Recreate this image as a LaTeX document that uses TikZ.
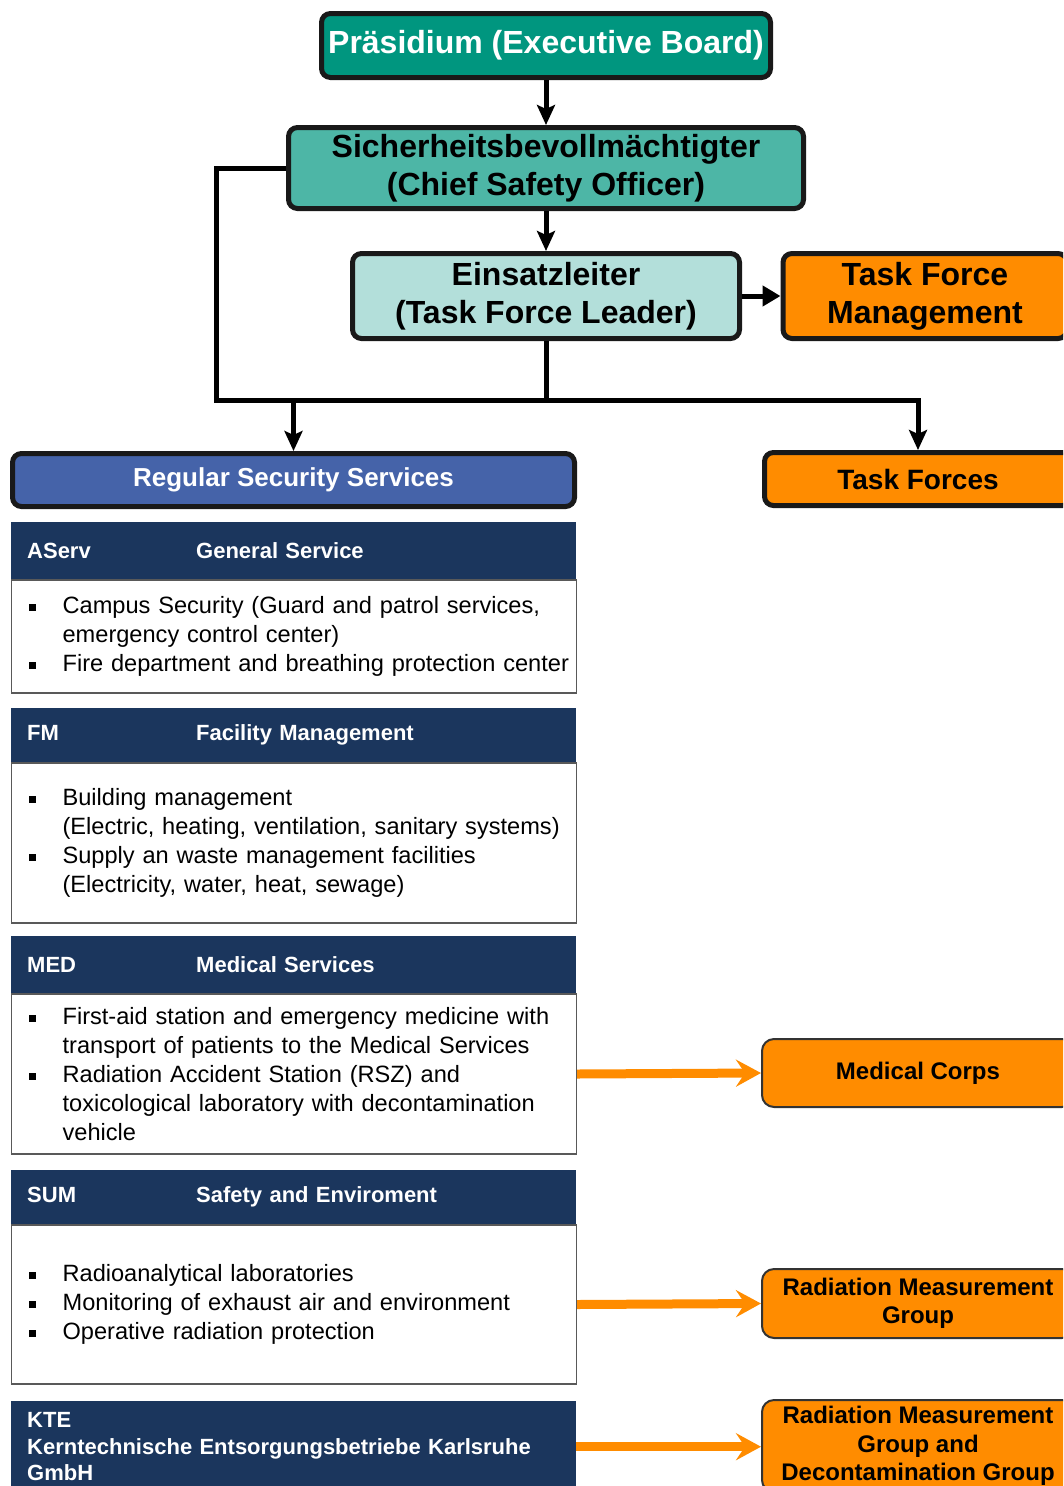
\documentclass[tikz,border=0pt]{standalone}
\usepackage{fontspec}
\setmainfont{Liberation Sans}
\usetikzlibrary{arrows.meta}
\definecolor{board}{HTML}{00967F}
\definecolor{officer}{HTML}{4DB6A6}
\definecolor{leader}{HTML}{B3DFDA}
\definecolor{force}{HTML}{FF8C00}
\definecolor{regular}{HTML}{4563A9}
\definecolor{navy}{HTML}{1B365D}
\newcommand{\sqb}{\rule[2.7pt]{7pt}{7pt}}
\newcommand{\itm}[1]{\mbox{\hspace*{12pt}\makebox[34pt][l]{\sqb}#1}}
\newcommand{\cnt}[1]{\mbox{\hspace*{46pt}#1}}
\tikzset{
  topbox/.style={draw=black!90, line width=5pt, rounded corners=9pt, align=center, inner sep=0pt,
    font=\bfseries\fontsize{32}{38}\selectfont},
  forcebox/.style={fill=force, draw=black!80, line width=2pt, rounded corners=12pt, minimum width=312pt,
    align=center, inner sep=0pt, font=\bfseries\fontsize{24}{28.5}\selectfont},
  unithead/.style={fill=navy, text=white, anchor=north west, inner xsep=16pt, inner ysep=0pt,
    text width=533pt, align=left, font=\bfseries\fontsize{22}{26.5}\selectfont},
  unitbody/.style={draw=black!65, line width=1.2pt, anchor=north west, inner xsep=5pt, inner ysep=0pt,
    text width=555pt, align=left, font=\fontsize{23.6}{29}\selectfont},
  link/.style={line width=5pt},
  linkarrow/.style={line width=5pt, -{Stealth[length=20pt,width=18pt,inset=4pt]}},
  feed/.style={draw=force, line width=9pt, -{Stealth[length=25pt,width=27pt,inset=9pt]}},
}
\begin{document}
\begin{tikzpicture}[x=1pt,y=-1pt]
\useasboundingbox (0,0) rectangle (1063,1486);
\clip (0,0) rectangle (1063,1486);

\node[topbox, fill=board, text=white, minimum width=449pt, minimum height=64pt] (board) at (546,45.5) {Präsidium (Executive Board)};
\node[topbox, fill=officer, minimum width=515pt, minimum height=81pt] (officer) at (546,168) {Sicherheitsbevollmächtigter\\(Chief Safety Officer)};
\node[topbox, fill=leader, minimum width=387pt, minimum height=85pt] (leader) at (546,296) {Einsatzleiter\\(Task Force Leader)};
\node[topbox, fill=force, minimum width=284pt, minimum height=85pt] (tfm) at (925,296) {Task Force\\Management};
\node[topbox, fill=regular, text=white, minimum width=562pt, minimum height=53pt, font=\bfseries\fontsize{26}{30}\selectfont] (regular) at (293.5,480) {Regular Security Services};
\node[topbox, fill=force, minimum width=307pt, minimum height=53pt, font=\bfseries\fontsize{28}{32}\selectfont] (forces) at (918,479) {Task Forces};

\coordinate (elbow) at (216,400);
\coordinate (split) at (546,400);
\draw[linkarrow] (board.south) -- (officer.north);
\draw[linkarrow] (officer.south) -- (leader.north);
\draw[line width=5pt, -{Triangle[length=18pt,width=20pt]}] (leader.east) -- (tfm.west);
\draw[link] (officer.west) -| (elbow) -- (split);
\draw[linkarrow] (leader.south) -- (split) -| (forces.north);
\draw[linkarrow] (elbow -| regular.north) -- (regular.north);

\node[unithead, minimum height=57pt] (aservhead) at (11,522) {\makebox[169pt][l]{AServ}General Service};
\node[unitbody, minimum height=113pt] (aservbody) at (aservhead.south west) {%
  \itm{Campus Security (Guard and patrol services,}\\
  \cnt{emergency control center)}\\
  \itm{Fire department and breathing protection center}};

\node[unithead, minimum height=54pt] (fmhead) at (11,708) {\makebox[169pt][l]{FM}Facility Management};
\node[unitbody, minimum height=160pt] (fmbody) at (fmhead.south west) {%
  \itm{Building management}\\
  \cnt{(Electric, heating, ventilation, sanitary systems)}\\
  \itm{Supply an waste management facilities}\\
  \cnt{(Electricity, water, heat, sewage)}};

\node[unithead, minimum height=57pt] (medhead) at (11,936) {\makebox[169pt][l]{MED}Medical Services};
\node[unitbody, minimum height=160pt] (medbody) at (medhead.south west) {%
  \itm{First-aid station and emergency medicine with}\\
  \cnt{transport of patients to the Medical Services}\\
  \itm{Radiation Accident Station (RSZ) and}\\
  \cnt{toxicological laboratory with decontamination}\\
  \cnt{vehicle}};

\node[unithead, minimum height=54pt] (sumhead) at (11,1170) {\makebox[169pt][l]{SUM}Safety and Enviroment};
\node[unitbody, minimum height=159pt] (sumbody) at (sumhead.south west) {%
  \itm{Radioanalytical laboratories}\\
  \itm{Monitoring of exhaust air and environment}\\
  \itm{Operative radiation protection}};

\node[unithead, minimum height=91pt] (ktehead) at (11,1401) {KTE\\Kerntechnische Entsorgungsbetriebe Karlsruhe\\GmbH};

\node[forcebox, minimum height=68pt] (medcorps) at (918,1073) {Medical Corps};
\node[forcebox, minimum height=69pt] (rmg) at (918,1303.5) {Radiation Measurement\\Group};
\node[forcebox, minimum height=92pt] (rmgdg) at (918,1446) {Radiation Measurement\\Group and\\Decontamination Group};

\draw[feed] (medbody.east) -- (medcorps.west);
\draw[feed] (sumbody.east) -- (rmg.west);
\draw[feed] (ktehead.east) -- (ktehead.east -| rmgdg.west);
\end{tikzpicture}
\end{document}
